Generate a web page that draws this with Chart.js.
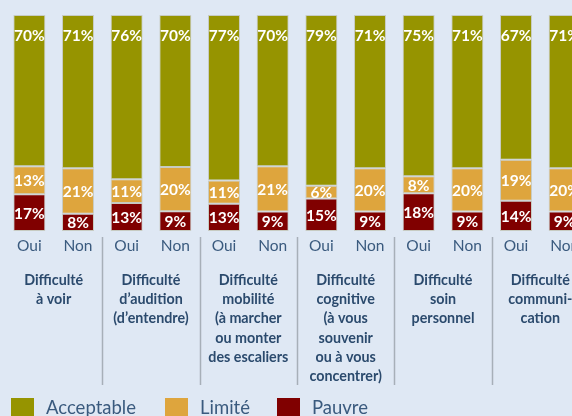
<!DOCTYPE html>
<html><head><meta charset="utf-8">
<script src="https://cdn.jsdelivr.net/npm/chart.js@4.4.0/dist/chart.umd.min.js"></script>
<style>
html,body{margin:0;padding:0;background:#dfe8f4;overflow:hidden;width:572px;height:416px}
canvas{display:block}
</style>
</head><body>
<canvas id="c" width="600" height="416"></canvas>
<script>
const barLabels = ["Oui","Non","Oui","Non","Oui","Non","Oui","Non","Oui","Non","Oui","Non"];
const groupLabels = [
  ["Difficulté","à voir"],
  ["Difficulté","d’audition","(d’entendre)"],
  ["Difficulté","mobilité","(à marcher","ou monter","des escaliers"],
  ["Difficulté","cognitive","(à vous","souvenir","ou à vous","concentrer)"],
  ["Difficulté","soin","personnel"],
  ["Difficulté","communi-","cation"]
];
const acceptable = [70, 71, 76, 70.4, 76.6, 70, 79, 71, 74.6, 71, 67, 71];
const limite     = [13, 21, 11, 20.4, 10.8, 21,  6, 20,  7.9, 20, 19, 20];
const pauvre     = [17,  8, 13,  9.2, 12.6,  9, 15,  9, 17.5,  9, 14,  9];
const seriesNames = ["Acceptable","Limité","Pauvre"];
const seriesColors = ["#969400","#dea53d","#800000"];

const FONT = "Lato, 'Noto Sans', sans-serif";
const TXT = "#3a5a7e";
const TXT_BOLD = "#2b4a6d";

const deco = {
  id: 'deco',
  afterDatasetsDraw(chart) {
    const ctx = chart.ctx, xs = chart.scales.x;
    ctx.save();
    // value labels
    ctx.fillStyle = '#ffffff';
    ctx.font = "bold 15.5px " + FONT;
    ctx.textAlign = 'center';
    ctx.textBaseline = 'middle';
    chart.data.datasets.forEach((ds, di) => {
      const meta = chart.getDatasetMeta(di);
      meta.data.forEach((bar, i) => {
        const p = bar.getProps(['x','y','base'], true);
        const top = Math.min(p.y, p.base), bottom = Math.max(p.y, p.base);
        const cy = ds.labelTop ? top + 21 : (top + bottom) / 2 + 1;
        ctx.fillText(Math.round(ds.data[i]) + '%', p.x, cy);
      });
    });
    // separators
    ctx.strokeStyle = '#a7afb8';
    ctx.lineWidth = 1.5;
    for (let g = 1; g < groupLabels.length; g++) {
      const sx = Math.round((xs.getPixelForValue(2*g-1) + xs.getPixelForValue(2*g)) / 2) + 0.5;
      ctx.beginPath();
      ctx.moveTo(sx, 237);
      ctx.lineTo(sx, 385);
      ctx.stroke();
    }
    // group labels
    ctx.fillStyle = TXT_BOLD;
    ctx.font = "bold 14.3px " + FONT;
    groupLabels.forEach((lines, g) => {
      const cx = (xs.getPixelForValue(2*g) + xs.getPixelForValue(2*g+1)) / 2;
      lines.forEach((ln, k) => ctx.fillText(ln, cx, 280 + k * 19.3));
    });
    // legend
    ctx.font = "18.5px " + FONT;
    ctx.textAlign = 'left';
    ctx.textBaseline = 'alphabetic';
    const lx = [11, 165, 277];
    seriesNames.forEach((nm, k) => {
      ctx.fillStyle = seriesColors[k];
      ctx.fillRect(lx[k], 398, 23, 22);
      ctx.fillStyle = TXT;
      ctx.fillText(nm, lx[k] + 35, 414);
    });
    ctx.restore();
  }
};

const border = 'rgba(196,200,188,0.9)';
function go() {
  new Chart(document.getElementById('c'), {
    type: 'bar',
    data: {
      labels: barLabels,
      datasets: [
        { label: seriesNames[2], data: pauvre, backgroundColor: seriesColors[2], borderColor: border, borderWidth: 1, borderSkipped: false },
        { label: seriesNames[1], data: limite, backgroundColor: seriesColors[1], borderColor: border, borderWidth: 1, borderSkipped: false },
        { label: seriesNames[0], data: acceptable, backgroundColor: seriesColors[0], borderColor: border, borderWidth: 1, borderSkipped: false, labelTop: true }
      ]
    },
    options: {
      responsive: false,
      animation: false,
      devicePixelRatio: 1,
      layout: { padding: { top: 15, left: 5, right: 11, bottom: 0 } },
      datasets: { bar: { categoryPercentage: 1, barPercentage: 0.657 } },
      plugins: { legend: { display: false }, tooltip: { enabled: false } },
      scales: {
        x: {
          stacked: true,
          grid: { display: false, drawTicks: false },
          border: { display: false },
          ticks: { color: TXT, font: { family: FONT, size: 15.5 }, padding: 6, maxRotation: 0, autoSkip: false },
          afterFit: s => { s.height = 185; }
        },
        y: {
          stacked: true, display: false, min: 0, max: 100
        }
      }
    },
    plugins: [deco]
  });
}
Promise.all([
  document.fonts.load("15px Lato"),
  document.fonts.load("bold 15px Lato")
]).then(go, go);
</script>
</body></html>
